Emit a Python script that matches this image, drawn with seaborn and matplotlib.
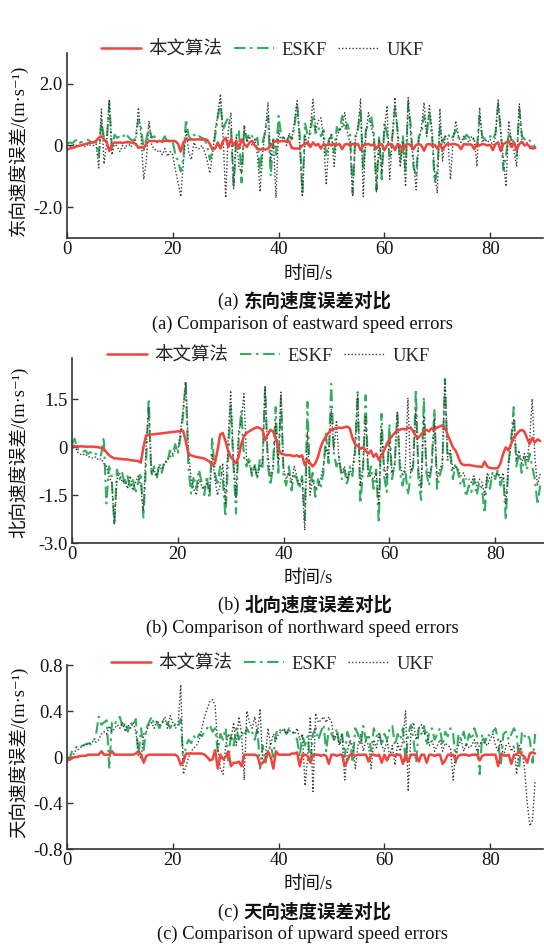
import numpy as np
import matplotlib
matplotlib.use("Agg")
import matplotlib.pyplot as plt
import seaborn as sns

# time grid (s)
time_s = np.arange(0, 89, 0.5)

series_names = ["本文算法", "ESKF", "UKF"]

# ---------------- (a) eastward ----------------
east_proposed = [
-0.13,-0.10,-0.08,-0.05,-0.02,0.00,0.02,0.05,0.07,0.09,
0.10,0.15,0.25,0.30,0.20,0.10,-0.18,0.05,0.10,0.09,
0.10,0.08,0.10,0.12,0.09,0.10,0.05,-0.08,-0.05,-0.08,
0.05,0.15,0.14,0.15,0.13,0.15,0.12,0.15,0.16,0.14,
0.15,0.14,0.05,-0.20,0.10,0.20,0.18,0.20,0.19,0.20,
0.20,0.19,0.20,0.18,0.05,-0.13,-0.10,0.10,-0.10,0.15,
0.25,-0.05,0.20,0.00,0.15,-0.10,0.20,0.05,-0.05,0.10,
0.15,0.00,-0.10,-0.13,-0.12,-0.13,-0.10,0.00,0.10,0.14,
0.13,0.14,0.15,0.13,0.14,-0.08,-0.10,-0.10,-0.09,0.00,
0.05,0.10,-0.05,0.10,0.00,0.05,-0.10,0.05,0.00,0.05,
0.00,0.05,0.02,0.05,-0.12,0.03,0.05,0.00,0.05,0.02,
0.05,-0.15,0.00,0.03,0.05,0.00,0.04,-0.10,0.02,0.05,
-0.15,0.00,0.05,0.03,-0.15,0.05,0.00,-0.18,0.02,0.05,
0.00,-0.12,0.02,0.05,0.00,-0.17,0.03,0.05,0.00,0.02,
-0.10,0.05,-0.15,0.00,0.05,0.03,0.05,0.04,0.00,-0.12,
0.05,0.03,0.04,0.02,-0.12,0.05,0.00,0.05,0.03,0.00,
0.02,-0.15,0.05,0.10,-0.18,0.05,0.10,0.15,-0.05,0.10,
-0.15,0.05,0.12,0.00,0.05,-0.05,-0.10,-0.08]

east_eskf = [
0.05,0.10,0.08,0.15,0.20,0.12,0.10,0.15,0.18,0.12,
0.10,0.12,-0.35,0.85,0.20,0.10,1.40,-0.15,0.35,0.25,
0.30,0.25,0.40,0.30,0.20,0.15,0.25,0.85,0.60,-0.15,
0.20,0.63,0.25,0.30,0.10,0.20,0.15,0.30,0.05,0.20,
0.10,-0.30,-0.50,-0.84,-0.40,0.85,0.30,0.20,0.35,0.25,
0.30,0.25,0.20,0.00,-0.46,-0.20,0.30,0.90,1.40,0.50,
0.74,0.90,0.50,-1.33,0.30,0.50,-1.20,0.63,0.20,0.40,
0.30,0.15,0.25,-0.90,0.10,0.50,0.96,-1.00,0.20,-0.30,
0.96,0.30,0.20,0.15,0.30,0.20,0.60,1.35,0.30,-1.60,
0.74,0.30,0.40,1.00,0.40,0.60,0.30,0.50,-0.35,0.20,
0.30,-0.24,0.60,0.40,0.96,0.50,0.70,0.40,-1.55,0.30,
0.50,1.18,-0.80,0.50,0.70,0.96,0.40,-1.44,0.30,-1.10,
0.74,0.40,-0.35,0.30,1.23,0.50,-0.57,0.30,-0.80,1.40,
0.60,-0.68,-1.00,0.30,0.40,0.96,0.40,1.07,0.30,-1.20,
-0.80,0.63,0.10,0.30,0.40,0.20,0.30,0.50,0.25,0.30,
0.20,0.35,0.25,0.30,0.15,-0.02,0.96,0.30,0.20,0.30,
0.30,0.20,0.40,1.35,0.50,-0.80,-0.30,0.40,0.20,0.10,
-0.35,1.18,0.30,0.20,0.25,0.15,0.10,-0.07]

east_ukf = [
-0.10,-0.05,0.00,0.05,-0.05,0.10,0.00,-0.05,0.05,0.00,
0.00,0.05,-0.73,1.18,-0.60,0.10,1.50,-0.30,0.10,-0.05,
-0.20,0.00,-0.10,0.10,-0.05,0.05,0.20,1.23,0.30,-1.10,
-0.50,0.80,0.00,-0.10,-0.20,-0.15,-0.30,-0.10,-0.35,-0.20,
-0.30,-0.80,-1.20,-1.66,-0.60,0.50,-0.20,-0.46,0.10,-0.10,
-0.10,0.00,-0.20,-0.50,-0.90,-0.30,0.50,1.00,1.67,0.30,
-1.70,0.50,1.07,-1.40,0.30,-0.68,-0.90,0.63,0.10,0.30,
0.00,0.20,-0.30,-1.50,-0.20,0.50,1.40,-0.50,0.20,-1.70,
0.50,0.10,0.30,0.00,0.40,0.20,0.80,1.45,0.00,-1.66,
0.30,0.00,0.60,1.50,0.50,0.80,0.90,0.20,-1.28,0.10,
0.40,-0.68,0.30,0.50,0.60,1.07,0.40,0.10,-1.66,0.20,
0.60,1.50,-1.66,0.40,1.07,0.60,0.30,-1.50,0.20,-0.90,
0.50,1.29,-1.10,0.20,1.56,0.30,-0.70,0.10,-1.33,1.56,
0.30,-0.50,-1.44,0.20,0.60,1.40,0.30,1.29,0.50,-0.90,
-1.55,1.20,-0.50,0.30,0.20,-1.10,0.20,0.80,0.30,0.10,
0.30,0.20,0.10,0.30,0.20,-0.68,1.23,0.10,0.20,0.10,
0.20,0.00,0.30,1.50,0.40,-0.50,-1.33,0.80,0.10,-0.20,
-0.68,1.35,0.20,0.00,0.10,-0.10,0.00,-0.10]

# ---------------- (b) northward ----------------
north_proposed = [
0.03,0.03,0.03,0.03,0.03,0.02,0.02,0.02,0.02,0.01,
0.00,-0.02,-0.05,-0.15,-0.25,-0.30,-0.35,-0.35,-0.36,-0.37,
-0.38,-0.38,-0.40,-0.41,-0.42,-0.43,-0.48,0.00,0.37,0.38,
0.40,0.41,0.42,0.43,0.44,0.45,0.46,0.47,0.48,0.49,
0.50,0.51,0.52,0.20,-0.20,-0.25,-0.28,-0.30,-0.32,-0.33,
-0.35,-0.40,-0.45,-0.55,-0.50,-0.10,0.40,0.45,0.20,-0.10,
-0.30,-0.40,-0.50,-0.30,0.10,0.35,0.45,0.50,0.55,0.60,
0.63,0.60,0.55,0.22,0.40,0.55,0.50,0.30,-0.05,-0.20,
-0.22,-0.25,-0.24,-0.26,-0.28,-0.25,-0.30,-0.25,-0.56,-0.40,
-0.50,-0.60,-0.50,-0.30,0.00,0.20,0.35,0.45,0.55,0.58,
0.60,0.62,0.60,0.63,0.65,0.60,0.30,0.10,0.05,-0.05,
0.00,-0.10,-0.20,-0.10,-0.30,-0.20,-0.40,-0.25,-0.10,0.10,
0.25,0.35,0.45,0.53,0.55,0.58,0.56,0.60,0.62,0.50,
0.35,0.30,0.40,0.50,0.55,0.50,0.60,0.55,0.62,0.65,
0.69,0.60,0.40,0.20,0.00,-0.10,-0.30,-0.50,-0.55,-0.56,
-0.55,-0.57,-0.58,-0.60,-0.60,-0.62,-0.45,-0.60,-0.65,-0.66,
-0.66,-0.65,-0.50,-0.20,0.00,-0.10,0.10,0.30,0.40,0.50,
0.55,0.50,0.30,0.10,0.30,0.15,0.25,0.20]

north_eskf = [
0.10,0.27,-0.05,-0.10,-0.15,-0.10,-0.20,-0.15,-0.25,-0.20,
-0.30,-0.25,0.32,-1.76,-0.60,-0.90,-2.44,-0.70,-1.00,-0.80,
-1.20,-0.90,-1.30,-1.00,-1.45,-1.10,-0.80,-2.20,-0.50,1.52,
-0.90,-0.60,-1.00,-0.50,-0.80,-0.40,-0.50,-0.10,-0.30,0.10,
-0.20,0.30,1.00,2.10,-0.60,-1.45,-0.90,-1.30,-0.70,-1.10,
-1.50,-0.90,-1.60,0.30,-0.80,-1.20,-0.60,-1.00,-2.18,-0.40,
1.36,-0.50,-2.07,0.20,1.15,-0.30,-0.60,-0.30,-0.90,-0.50,
-1.00,-0.40,-0.70,1.94,-0.50,-1.20,-0.60,1.26,-0.80,1.57,
-0.90,-1.20,-0.60,-1.35,-0.80,-1.00,-1.30,-0.90,-2.28,1.42,
-1.20,-0.80,-1.55,-1.00,-1.30,-0.80,0.43,-0.50,1.99,-0.20,
-0.60,-0.30,-1.00,-0.70,-1.20,-0.60,-0.90,-0.20,1.73,-1.76,
-0.80,1.63,-1.00,-0.60,-1.30,-0.70,-2.38,1.05,-0.90,-1.40,
0.74,-1.00,-0.50,1.10,-0.80,-1.20,-0.70,-1.50,-0.90,-0.60,
1.83,-1.00,-1.65,1.57,-0.80,-1.20,-0.50,1.20,-1.30,-0.90,
-0.60,2.15,-0.40,-0.20,-1.00,-0.50,-0.80,-1.20,-1.00,-1.55,
-1.20,-1.40,-1.00,-1.50,-1.10,-1.30,-2.07,-0.90,-1.30,-0.80,
-1.00,-0.70,-1.20,-0.90,-2.28,-0.50,0.20,1.26,-0.60,-0.20,
-0.80,-0.30,-0.70,-0.20,-0.60,-1.00,-1.80,-1.20]

north_ukf = [
-0.05,0.10,-0.15,-0.20,-0.25,-0.20,-0.30,-0.30,-0.35,-0.30,
-0.40,-0.35,-0.50,-0.60,-0.90,-1.10,-2.40,-1.00,-0.80,-1.10,
-1.00,-1.30,-0.90,-1.35,-1.10,-0.90,-1.20,-2.00,0.00,1.26,
-0.80,-0.70,-0.90,-0.60,-0.70,-0.50,-0.40,-0.30,-0.20,-0.10,
-0.10,0.50,1.20,2.04,0.00,-1.00,-1.30,-1.50,-1.00,-1.20,
-1.30,-1.10,-1.40,-0.20,-1.00,-1.50,-1.20,-0.50,-1.80,0.20,
1.78,-0.30,-1.60,0.50,0.80,1.68,-0.40,-0.50,-0.80,-0.60,
-0.90,-0.60,-0.50,1.90,-0.20,-0.90,-0.70,0.80,-0.50,1.73,
-0.70,-1.00,-0.80,-1.10,-0.60,-0.90,-1.20,-1.00,-2.60,0.50,
-1.50,-1.00,-1.30,-1.20,-1.00,-0.60,0.00,-0.30,1.20,-0.10,
0.85,-0.50,-0.80,-0.60,-1.00,-0.80,-0.70,0.00,1.68,-1.20,
-0.60,1.00,-0.80,-0.90,-1.00,-0.80,-1.80,0.60,-0.60,-1.00,
0.30,-0.80,-0.60,1.10,-0.50,-0.90,-0.60,1.55,-0.80,-0.50,
1.20,-0.70,-1.30,1.00,-0.60,-0.90,-0.60,0.90,-1.00,-0.70,
-0.50,2.10,-0.30,-0.10,-0.70,-0.60,-0.70,-0.90,-0.80,-1.00,
-1.00,-1.10,-0.90,-1.20,-1.00,-1.10,-1.50,-0.80,-1.00,-0.90,
-0.90,-0.80,-1.00,-0.80,-1.80,-0.60,0.10,0.90,-0.40,-0.10,
-0.50,-0.20,-0.40,0.20,1.52,-0.30,-1.20,-0.80]

# ---------------- (c) upward ----------------
up_proposed = [
-0.03,-0.02,-0.01,0.00,0.00,0.01,0.01,0.01,0.02,0.02,
0.02,0.02,0.02,0.05,0.02,0.02,0.02,0.05,0.02,0.02,
0.02,0.02,0.02,0.02,0.02,0.02,0.03,0.05,0.02,-0.05,
0.01,0.02,0.02,0.02,0.02,0.02,0.02,0.02,0.02,0.02,
0.02,0.02,0.00,-0.07,-0.04,0.03,0.03,0.03,0.03,0.03,
0.03,0.03,0.02,0.00,-0.03,-0.02,0.06,-0.10,0.02,-0.02,
0.00,0.05,-0.08,-0.05,-0.05,-0.04,-0.08,0.02,0.02,0.02,
0.02,0.02,0.01,-0.07,-0.05,-0.02,0.05,0.00,-0.10,0.05,
0.02,0.02,0.02,0.02,0.02,0.03,0.03,0.04,-0.08,0.02,
0.02,0.01,-0.05,0.02,0.02,0.02,0.01,0.02,0.01,-0.06,
0.02,0.02,0.01,0.02,0.02,-0.08,-0.03,0.02,0.02,0.01,
0.02,0.02,0.02,0.02,-0.04,0.02,0.02,0.01,0.02,-0.05,
0.02,-0.03,0.02,0.02,0.01,0.02,0.02,-0.06,0.02,-0.04,
0.02,0.02,0.02,-0.04,0.02,0.02,-0.05,0.02,0.02,0.01,
0.02,0.02,-0.06,-0.03,0.02,0.02,0.02,-0.03,0.01,0.02,
0.02,0.02,0.01,0.02,0.02,0.02,-0.03,0.01,0.02,0.02,
0.02,0.02,0.02,-0.08,0.02,0.02,0.01,0.02,-0.06,0.02,
0.02,0.05,0.02,0.00,-0.05,0.03,0.04,0.03]

up_eskf = [
-0.02,-0.02,0.06,0.07,0.10,0.09,0.10,0.11,0.12,0.11,
0.13,0.20,0.35,0.28,0.30,0.32,-0.10,0.30,0.28,0.33,
0.35,0.25,0.30,0.22,0.30,0.27,0.33,0.00,0.25,0.06,
0.25,0.30,0.35,0.28,0.30,0.25,0.32,0.28,0.30,0.25,
0.30,0.28,0.26,0.33,-0.05,0.10,0.15,0.12,0.18,0.15,
0.20,0.18,0.22,0.25,0.28,0.22,0.25,0.05,0.20,0.15,
0.25,-0.03,0.20,0.10,0.25,0.15,0.22,0.18,0.25,0.20,
0.22,0.15,0.25,-0.10,0.10,-0.05,0.05,0.10,0.00,0.20,
0.25,0.22,0.24,0.20,0.25,0.23,0.20,0.15,0.00,0.20,
0.10,0.18,-0.05,0.20,0.25,0.15,0.22,0.28,0.05,0.25,
0.20,0.15,0.25,0.10,0.20,0.00,0.22,0.15,-0.05,0.25,
0.20,0.10,0.27,0.15,0.20,0.05,0.25,0.18,0.22,0.10,
0.20,0.15,0.25,0.27,0.10,0.20,0.15,0.25,-0.05,0.20,
0.28,0.15,-0.05,0.25,0.20,0.27,0.10,0.22,0.25,0.15,
0.20,0.25,0.10,0.22,0.18,0.25,0.20,-0.05,0.20,0.15,
0.22,0.10,0.20,0.15,0.25,0.18,-0.15,0.20,0.12,0.20,
0.18,0.22,0.25,0.15,-0.08,0.20,0.22,0.15,0.20,0.25,
0.20,-0.08,0.22,0.18,0.20,0.15,-0.05,0.20]

up_ukf = [
-0.05,-0.03,0.00,0.05,0.06,0.08,0.10,0.10,0.12,0.12,
0.14,0.13,0.15,0.20,0.22,0.20,0.27,0.22,0.25,0.28,
0.25,0.30,0.22,0.28,0.25,0.30,0.22,0.05,-0.02,0.20,
0.22,0.28,0.30,0.25,0.32,0.28,0.30,0.35,0.25,0.36,
0.30,0.25,0.28,0.63,-0.15,-0.08,0.00,0.05,0.08,0.10,
0.15,0.25,0.35,0.42,0.48,0.50,0.45,0.10,-0.10,-0.15,
0.10,0.20,0.15,0.30,0.10,0.35,0.20,-0.20,0.40,0.30,
0.25,0.35,0.20,0.42,-0.05,0.00,0.25,0.10,0.20,0.15,
0.20,0.22,0.25,0.20,0.23,0.22,0.20,0.25,0.15,0.20,
-0.25,0.00,0.35,-0.30,0.38,0.30,0.32,0.35,0.30,0.35,
0.30,0.15,0.20,0.10,0.20,-0.20,0.05,0.15,0.10,-0.10,
0.10,0.20,0.05,0.15,0.10,-0.10,0.15,0.08,0.20,0.10,
0.05,0.15,0.00,0.10,-0.07,0.12,0.05,0.15,0.40,-0.30,
0.20,0.30,0.15,0.25,0.28,0.20,0.22,0.10,0.15,0.05,
0.10,0.15,0.05,0.12,0.10,0.08,-0.20,0.05,0.10,0.15,
0.05,0.12,0.08,0.10,0.15,0.05,0.10,0.15,0.12,0.10,
0.15,0.20,0.10,0.05,0.15,0.00,0.10,0.12,0.05,0.10,
-0.15,0.10,0.05,-0.10,-0.40,-0.60,-0.55,-0.20]

x_ticks = [0, 20, 40, 60, 80]
east_yticks = [-2.0, 0.0, 2.0]
east_yticklabels = ["-2.0", "0", "2.0"]
north_yticks = [-3.0, -1.5, 0.0, 1.5]
north_yticklabels = ["-3.0", "-1.5", "0", "1.5"]
up_yticks = [-0.8, -0.4, 0.0, 0.4, 0.8]
up_yticklabels = ["-0.8", "-0.4", "0", "0.4", "0.8"]

# ---------------- style ----------------
sns.set_style("ticks")
FAMILY = ['Liberation Serif', 'Noto Sans CJK SC', 'DejaVu Serif']
plt.rcParams['font.family'] = FAMILY
plt.rcParams['axes.unicode_minus'] = False

FS = 13.3
W, H = 544.0, 948.0
RED = '#f2433f'
GREEN = '#33ad60'
GRAY = '#3a3a3a'
AXC = '#333333'
TXT = '#111111'

fig = plt.figure(figsize=(W / 100, H / 100), dpi=100)
renderer = fig.canvas.get_renderer()

panels = [
    dict(px=(67, 53, 238), data=(east_proposed, east_eskf, east_ukf), ylim=(-3.0, 3.0),
         yt=east_yticks, ytl=east_yticklabels, ylabel="东向速度误差/(m·s⁻¹)", ylab_y=150,
         leg=(262, 50), xlab_y=274, cap_tag="(a) ", cap_cn="东向速度误差对比",
         cap_en="(a) Comparison of eastward speed errors", cap_y=(301, 324)),
    dict(px=(72, 358, 543), data=(north_proposed, north_eskf, north_ukf), ylim=(-3.0, 2.8),
         yt=north_yticks, ytl=north_yticklabels, ylabel="北向速度误差/(m·s⁻¹)", ylab_y=452,
         leg=(268, 356), xlab_y=578, cap_tag="(b) ", cap_cn="北向速度误差对比",
         cap_en="(b) Comparison of northward speed errors", cap_y=(605, 628)),
    dict(px=(67, 665, 849), data=(up_proposed, up_eskf, up_ukf), ylim=(-0.8, 0.8),
         yt=up_yticks, ytl=up_yticklabels, ylabel="天向速度误差/(m·s⁻¹)", ylab_y=752,
         leg=(272, 664), xlab_y=885, cap_tag="(c) ", cap_cn="天向速度误差对比",
         cap_en="(c) Comparison of upward speed errors", cap_y=(912, 934)),
]

for p in panels:
    left, top, bottom = p["px"]
    width = 90 * 5.29
    ax = fig.add_axes([left / W, 1 - bottom / H, width / W, (bottom - top) / H])
    prop, eskf, ukf = p["data"]
    sns.lineplot(x=time_s, y=eskf, ax=ax, color=GREEN, lw=1.5,
                 linestyle=(0, (5.5, 2.2, 1.2, 2.2)), label="ESKF", estimator=None, sort=False)
    sns.lineplot(x=time_s, y=ukf, ax=ax, color=GRAY, lw=1.0,
                 linestyle=(0, (1.0, 1.5)), label="UKF", estimator=None, sort=False)
    sns.lineplot(x=time_s, y=prop, ax=ax, color=RED, lw=1.8,
                 linestyle='-', label="本文算法", estimator=None, sort=False)
    ax.set_xlim(0, 90)
    ax.set_ylim(*p["ylim"])
    ax.set_xticks(x_ticks)
    ax.set_xticklabels([str(v) for v in x_ticks])
    ax.set_yticks(p["yt"])
    ax.set_yticklabels(p["ytl"])
    for s in ["top", "right"]:
        ax.spines[s].set_visible(False)
    for s in ["left", "bottom"]:
        ax.spines[s].set_color(AXC)
        ax.spines[s].set_linewidth(1.2)
    ax.tick_params(axis='both', direction='in', length=4, width=1.0, color=AXC,
                   labelsize=FS, labelcolor=TXT)
    ax.tick_params(axis='y', pad=3)
    ax.tick_params(axis='x', pad=2.5)

    ax.set_xlabel("时间/s", fontsize=FS, color=TXT, va='center')
    ax.xaxis.set_label_coords(308 / W, 1 - p["xlab_y"] / H, transform=fig.transFigure)
    ax.set_ylabel(p["ylabel"], fontsize=FS, color=TXT, va='center')
    ax.yaxis.set_label_coords(18 / W, 1 - p["ylab_y"] / H, transform=fig.transFigure)

    handles, labels = ax.get_legend_handles_labels()
    hmap = dict(zip(labels, handles))
    ax.legend([hmap[n] for n in series_names], series_names, ncol=3, frameon=False,
              loc='center', bbox_to_anchor=(p["leg"][0] / W, 1 - p["leg"][1] / H),
              bbox_transform=fig.transFigure, fontsize=FS, handlelength=2.2,
              handletextpad=0.4, columnspacing=0.6, borderpad=0, borderaxespad=0)

    # caption: regular tag + bold Chinese title, centred as a whole
    cy = 1 - p["cap_y"][0] / H
    t1 = fig.text(0, cy, p["cap_tag"], ha='left', va='center', fontsize=FS, color=TXT)
    t2 = fig.text(0, cy, p["cap_cn"], ha='left', va='center', fontsize=FS,
                  fontweight='bold', color=TXT)
    w1 = t1.get_window_extent(renderer).width
    w2 = t2.get_window_extent(renderer).width
    x0 = 305 - (w1 + w2) / 2
    t1.set_x(x0 / W)
    t2.set_x((x0 + w1) / W)
    fig.text(302 / W, 1 - p["cap_y"][1] / H, p["cap_en"], ha='center', va='center',
             fontsize=FS, color=TXT)

fig.savefig("out.png", dpi=100)
